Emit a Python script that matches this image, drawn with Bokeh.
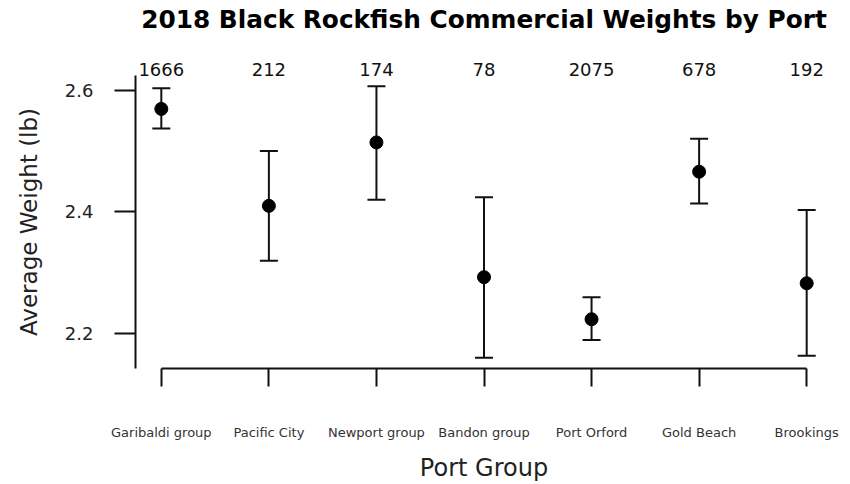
from bokeh.plotting import figure
from bokeh.models import ColumnDataSource, Range1d, LinearAxis, FixedTicker, Whisker, TeeHead
from bokeh.embed import file_html
from bokeh.resources import INLINE

# ---- data ----
title_text = "2018 Black Rockfish Commercial Weights by Port"
ports = ["Garibaldi group", "Pacific City", "Newport group", "Bandon group",
         "Port Orford", "Gold Beach", "Brookings"]
counts = ["1666", "212", "174", "78", "2075", "678", "192"]
means = [2.569, 2.410, 2.514, 2.293, 2.224, 2.466, 2.283]
upper = [2.603, 2.500, 2.606, 2.424, 2.260, 2.520, 2.403]
lower = [2.537, 2.320, 2.420, 2.161, 2.190, 2.414, 2.164]
y_ticks = [2.2, 2.4, 2.6]

n = len(ports)
xs = list(range(1, n + 1))
lo, hi = min(lower), max(upper)
ypad = 0.04 * (hi - lo)
xpad = 0.04 * (n - 1)

FONT = "DejaVu Sans"
INK = "#111111"

p = figure(width=850, height=484,
           x_range=Range1d(1 - xpad, n + xpad),
           y_range=Range1d(lo - ypad, hi + ypad),
           x_axis_type=None, y_axis_type=None,
           output_backend="svg", toolbar_location=None,
           min_border_left=135, min_border_right=18,
           min_border_top=75, min_border_bottom=116)
p.outline_line_color = None
p.background_fill_color = "white"
p.border_fill_color = "white"
p.title.text = ""

# y axis
yaxis = LinearAxis(ticker=FixedTicker(ticks=y_ticks),
                   axis_label="Average Weight (lb)")
yaxis.axis_line_width = 2
yaxis.axis_line_color = INK
yaxis.major_tick_line_width = 2
yaxis.major_tick_line_color = INK
yaxis.major_tick_out = 21
yaxis.major_tick_in = 0
yaxis.minor_tick_line_color = None
yaxis.major_label_standoff = 21
yaxis.major_label_text_font = FONT
yaxis.major_label_text_font_size = "18px"
yaxis.major_label_text_color = "#222222"
yaxis.major_label_orientation = "horizontal"
yaxis.axis_label_text_font = FONT
yaxis.axis_label_text_font_size = "23px"
yaxis.axis_label_text_font_style = "normal"
yaxis.axis_label_text_color = "#222222"
yaxis.axis_label_standoff = 20
p.add_layout(yaxis, "left")

# x axis (categories)
xaxis = LinearAxis(ticker=FixedTicker(ticks=xs),
                   major_label_overrides={x: name for x, name in zip(xs, ports)},
                   bounds=(1, n), axis_label="Port Group")
xaxis.axis_line_width = 2
xaxis.axis_line_color = INK
xaxis.major_tick_line_width = 2
xaxis.major_tick_line_color = INK
xaxis.major_tick_out = 18
xaxis.major_tick_in = 0
xaxis.minor_tick_line_color = None
xaxis.major_label_standoff = 38
xaxis.major_label_text_font = FONT
xaxis.major_label_text_font_size = "13px"
xaxis.major_label_text_color = "#333333"
xaxis.axis_label_text_font = FONT
xaxis.axis_label_text_font_size = "24px"
xaxis.axis_label_text_font_style = "normal"
xaxis.axis_label_text_color = "#222222"
xaxis.axis_label_standoff = 11
p.add_layout(xaxis, "below")

# sample sizes above, with the chart title as this axis' label
caxis = LinearAxis(ticker=FixedTicker(ticks=xs),
                   major_label_overrides={x: c for x, c in zip(xs, counts)},
                   axis_label=title_text)
caxis.axis_line_color = None
caxis.major_tick_line_color = None
caxis.minor_tick_line_color = None
caxis.major_tick_out = 0
caxis.major_tick_in = 0
caxis.major_label_standoff = 0
caxis.major_label_text_font = FONT
caxis.major_label_text_font_size = "18px"
caxis.major_label_text_color = "#111111"
caxis.axis_label_text_font = FONT
caxis.axis_label_text_font_size = "24.8px"
caxis.axis_label_text_font_style = "bold"
caxis.axis_label_text_color = "black"
caxis.axis_label_standoff = 26
p.add_layout(caxis, "above")

src = ColumnDataSource(dict(x=xs, mean=means, upper=upper, lower=lower))
whisk = Whisker(base="x", upper="upper", lower="lower", source=src,
                line_width=2, line_color=INK,
                upper_head=TeeHead(size=18, line_width=2, line_color=INK),
                lower_head=TeeHead(size=18, line_width=2, line_color=INK))
p.add_layout(whisk)
p.scatter("x", "mean", source=src, size=13, color="black")

open("out.html", "w").write(file_html(p, INLINE))
